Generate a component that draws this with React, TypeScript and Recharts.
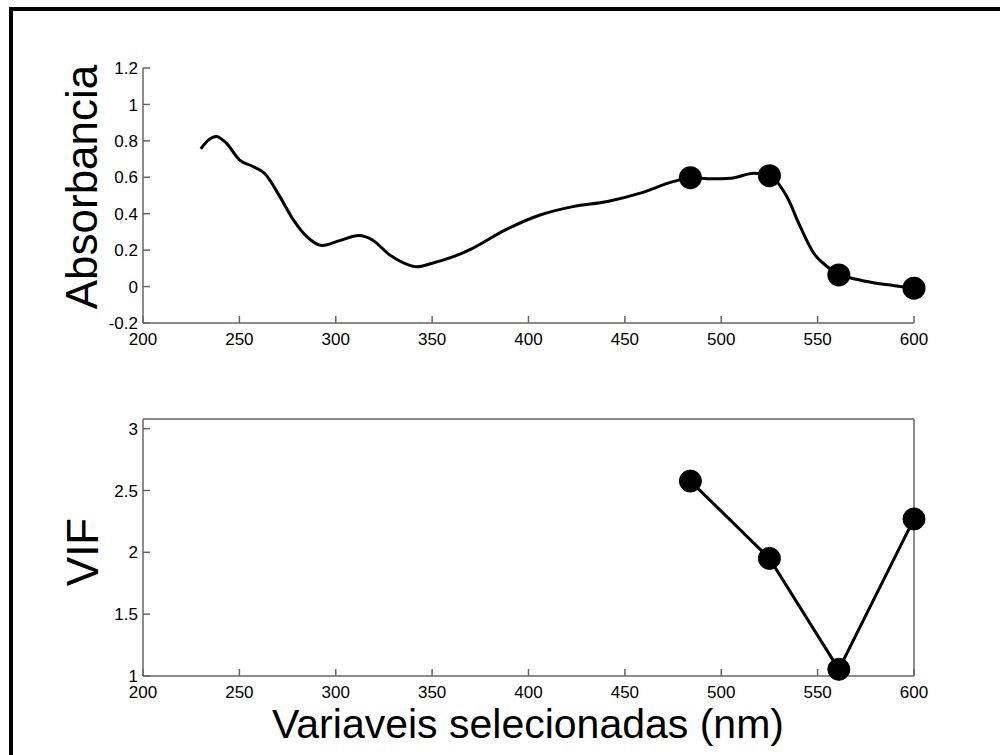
import React from 'react';
import { ComposedChart, Line, Scatter, XAxis, YAxis } from 'recharts';

// ---- data ----
const spectrumX = [230, 234, 238, 243, 250, 257, 263, 271, 278, 285, 293, 302, 312, 319, 328, 337, 342, 350, 361, 371, 388, 406, 423, 441, 458, 475, 484, 495, 505, 517, 525, 534, 541, 548, 555, 562, 570, 579, 590, 600];
const spectrumAbs = [0.756, 0.805, 0.824, 0.79, 0.696, 0.659, 0.622, 0.494, 0.366, 0.274, 0.225, 0.252, 0.28, 0.256, 0.174, 0.122, 0.109, 0.128, 0.164, 0.21, 0.311, 0.393, 0.439, 0.467, 0.513, 0.576, 0.598, 0.592, 0.595, 0.622, 0.609, 0.494, 0.329, 0.183, 0.109, 0.064, 0.04, 0.021, 0.005, -0.009];
const selectedX = [484, 525, 561, 600];
const selectedAbs = [0.598, 0.609, 0.064, -0.009];
const selectedVIF = [2.576, 1.951, 1.054, 2.27];

const xTicks = [200, 250, 300, 350, 400, 450, 500, 550, 600];
const absTicks = [-0.2, 0, 0.2, 0.4, 0.6, 0.8, 1, 1.2];
const vifTicks = [1, 1.5, 2, 2.5, 3];

const yLabelTop = 'Absorbancia';
const yLabelBottom = 'VIF';
const xLabel = 'Variaveis selecionadas (nm)';

const spectrumData = spectrumX.map((x, i) => ({ x, y: spectrumAbs[i] }));
const selAbsData = selectedX.map((x, i) => ({ x, y: selectedAbs[i] }));
const vifData = selectedX.map((x, i) => ({ x, y: selectedVIF[i] }));

// ---- styles ----
const FONT = '"Liberation Sans", Arial, Helvetica, sans-serif';
const AXIS = '#666';
const TICK_FS = 17;
const TICK_LEN = 7;

const YTick = (props: any) => {
  const { x, y, payload } = props;
  const ax = x + 5;
  return (
    <g>
      <line x1={ax} y1={y} x2={ax + TICK_LEN} y2={y} stroke={AXIS} strokeWidth={1.5} />
      <text x={x} y={y} dy="0.36em" textAnchor="end" fontSize={TICK_FS} fontFamily={FONT} fill="#000">
        {payload.value}
      </text>
    </g>
  );
};

const XTick = (props: any) => {
  const { x, y, payload } = props;
  const ay = y - 10;
  return (
    <g>
      <line x1={x} y1={ay} x2={x} y2={ay - TICK_LEN} stroke={AXIS} strokeWidth={1.5} />
      <text x={x} y={y} dy="0.72em" textAnchor="middle" fontSize={TICK_FS} fontFamily={FONT} fill="#000">
        {payload.value}
      </text>
    </g>
  );
};

const Empty = () => <g />;

const BigDot = (props: any) => <circle cx={props.cx} cy={props.cy} r={11.5} fill="#000" />;

const axisLine = { stroke: AXIS, strokeWidth: 1.5 };

export default function App() {
  return (
    <div style={{ position: 'absolute', left: 0, top: 0, width: 1000, height: 755, overflow: 'hidden', background: '#fff' }}>
      <div style={{ position: 'absolute', left: 9, top: 7, width: 1200, height: 1000, border: '4px solid #000' }} />

      <div style={{ position: 'absolute', left: 0, top: 0 }}>
        <ComposedChart width={1000} height={370} margin={{ top: 68, right: 86, bottom: 17, left: 83 }}>
          <XAxis xAxisId="x" type="number" dataKey="x" domain={[200, 600]} ticks={xTicks} interval={0}
            height={30} tickSize={0} tickMargin={10} tick={<XTick />} axisLine={axisLine} tickLine={false} />
          <YAxis yAxisId="y" type="number" dataKey="y" domain={[-0.2, 1.2]} ticks={absTicks} interval={0}
            width={60} tickSize={0} tickMargin={5} tick={<YTick />} axisLine={axisLine} tickLine={false} />
          <Line xAxisId="x" yAxisId="y" data={spectrumData} dataKey="y" type="monotone" stroke="#000" strokeWidth={3}
            dot={false} activeDot={false} isAnimationActive={false} />
          <Scatter xAxisId="x" yAxisId="y" data={selAbsData} dataKey="y" shape={BigDot} isAnimationActive={false} />
        </ComposedChart>
      </div>

      <div style={{ position: 'absolute', left: 0, top: 380 }}>
        <ComposedChart width={1000} height={375} margin={{ top: 39, right: 86, bottom: 49, left: 83 }}>
          <XAxis xAxisId="x" type="number" dataKey="x" domain={[200, 600]} ticks={xTicks} interval={0}
            height={30} tickSize={0} tickMargin={10} tick={<XTick />} axisLine={axisLine} tickLine={false} />
          <XAxis xAxisId="top" orientation="top" mirror type="number" dataKey="x" domain={[200, 600]} ticks={xTicks} interval={0}
            height={30} tickSize={TICK_LEN} tick={<Empty />} axisLine={axisLine} tickLine={axisLine} />
          <YAxis yAxisId="y" type="number" dataKey="y" domain={[1, 3.078]} ticks={vifTicks} interval={0}
            width={60} tickSize={0} tickMargin={5} tick={<YTick />} axisLine={axisLine} tickLine={false} />
          <YAxis yAxisId="right" orientation="right" mirror type="number" dataKey="y" domain={[1, 3.078]} ticks={vifTicks}
            interval={0} width={60} tickSize={TICK_LEN} tick={<Empty />} axisLine={axisLine} tickLine={axisLine} />
          <Line xAxisId="x" yAxisId="y" data={vifData} dataKey="y" type="linear" stroke="#000" strokeWidth={3}
            dot={{ r: 11, fill: '#000', stroke: '#000', strokeWidth: 1 }} activeDot={false} isAnimationActive={false} />
        </ComposedChart>
      </div>

      <svg width={1000} height={755} style={{ position: 'absolute', left: 0, top: 0, pointerEvents: 'none' }}>
        <text transform="translate(97,187) rotate(-90)" textAnchor="middle" fontSize={44} fontFamily={FONT} fill="#000">
          {yLabelTop}
        </text>
        <text transform="translate(98,552) rotate(-90)" textAnchor="middle" fontSize={44} fontFamily={FONT} fill="#000">
          {yLabelBottom}
        </text>
        <text x={528} y={738} textAnchor="middle" fontSize={41} fontFamily={FONT} fill="#000">
          {xLabel}
        </text>
      </svg>
    </div>
  );
}
